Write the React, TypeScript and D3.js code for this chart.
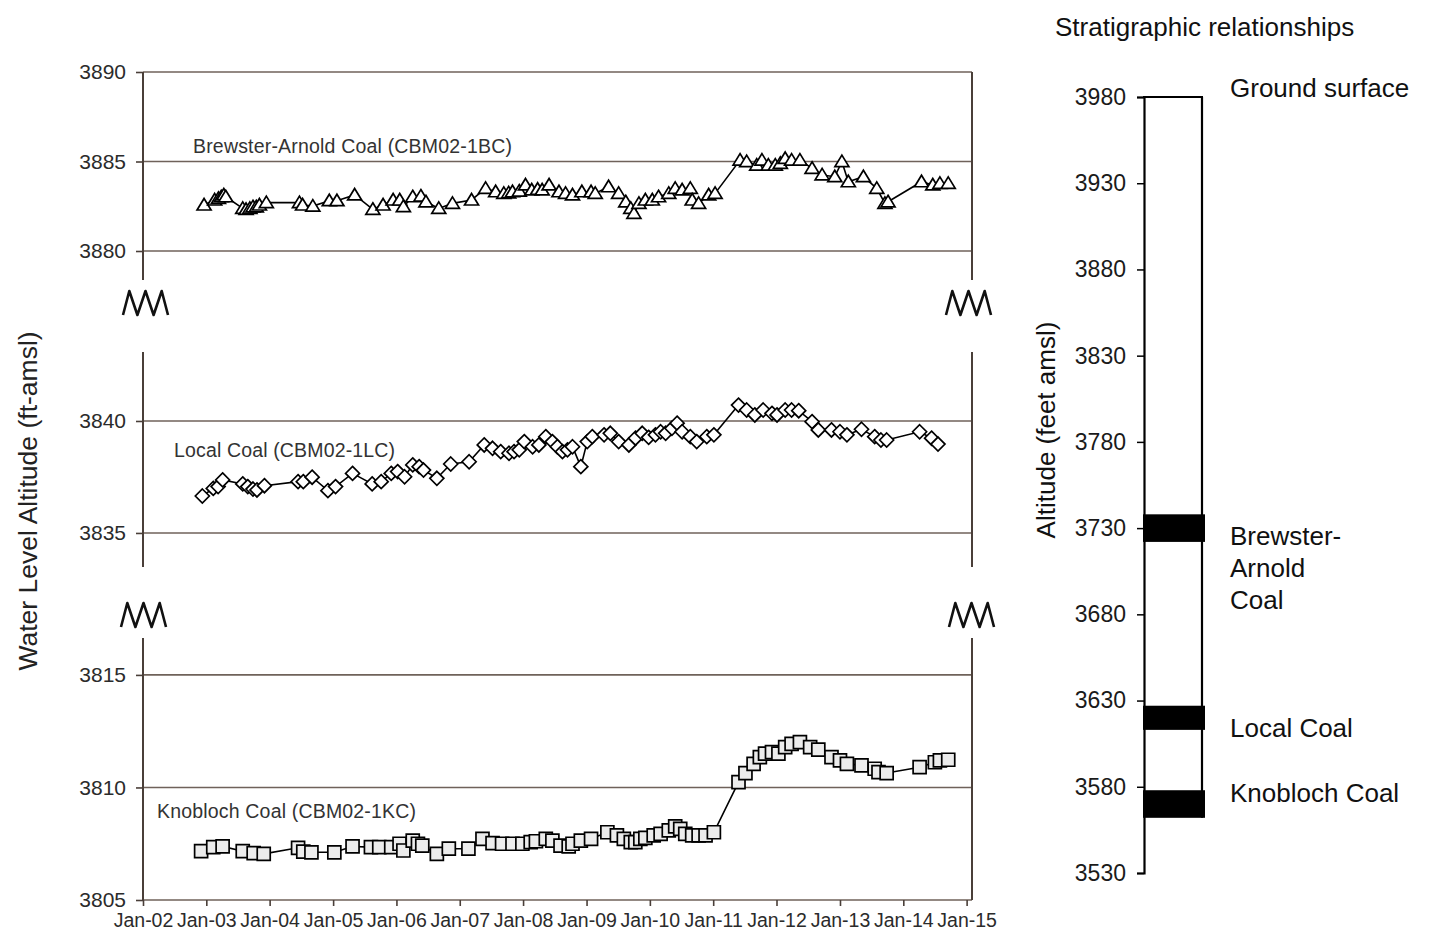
import React, { useEffect, useRef } from 'react';
import * as d3 from 'd3';

// Water-level observations, [date, altitude in ft above mean sea level]
const brewsterArnold: [string, number][] = [
  ['2002-12-19', 3882.57], ['2003-02-18', 3882.85], ['2003-03-12', 3882.94], ['2003-03-28', 3883.03],
  ['2003-04-12', 3883.13], ['2003-04-23', 3883.03], ['2003-07-30', 3882.38], ['2003-08-18', 3882.32],
  ['2003-09-09', 3882.38], ['2003-09-27', 3882.47], ['2003-10-16', 3882.47], ['2003-11-03', 3882.57],
  ['2003-12-13', 3882.7], ['2004-06-21', 3882.7], ['2004-07-09', 3882.57], ['2004-09-06', 3882.51],
  ['2004-12-10', 3882.81], ['2005-01-23', 3882.81], ['2005-05-05', 3883.13], ['2005-08-18', 3882.33],
  ['2005-10-16', 3882.57], ['2005-12-13', 3882.85], ['2006-01-20', 3882.85], ['2006-02-10', 3882.48],
  ['2006-04-05', 3883.03], ['2006-05-22', 3883.07], ['2006-06-20', 3882.75], ['2006-09-02', 3882.38],
  ['2006-11-20', 3882.66], ['2007-03-10', 3882.85], ['2007-05-30', 3883.5], ['2007-07-27', 3883.31],
  ['2007-09-12', 3883.22], ['2007-10-10', 3883.25], ['2007-11-01', 3883.31], ['2007-12-10', 3883.35],
  ['2008-01-15', 3883.69], ['2008-02-20', 3883.41], ['2008-03-25', 3883.45], ['2008-04-20', 3883.41],
  ['2008-05-30', 3883.69], ['2008-07-26', 3883.31], ['2008-09-02', 3883.22], ['2008-10-12', 3883.13],
  ['2008-12-05', 3883.31], ['2009-01-27', 3883.31], ['2009-02-20', 3883.22], ['2009-05-08', 3883.59],
  ['2009-07-05', 3883.22], ['2009-08-15', 3882.75], ['2009-09-13', 3882.38], ['2009-10-01', 3882.1],
  ['2009-10-30', 3882.66], ['2009-12-06', 3882.85], ['2010-01-15', 3882.85], ['2010-02-20', 3883.03],
  ['2010-04-20', 3883.22], ['2010-05-27', 3883.5], ['2010-07-06', 3883.41], ['2010-08-22', 3883.5],
  ['2010-09-02', 3882.85], ['2010-10-09', 3882.66], ['2010-12-06', 3883.13], ['2011-01-12', 3883.22],
  ['2011-06-05', 3885.08], ['2011-07-13', 3884.99], ['2011-09-09', 3884.8], ['2011-10-09', 3885.08],
  ['2011-11-15', 3884.8], ['2011-12-25', 3884.8], ['2012-01-23', 3884.9], ['2012-02-20', 3885.17],
  ['2012-03-28', 3885.08], ['2012-05-15', 3885.08], ['2012-07-24', 3884.62], ['2012-09-20', 3884.25],
  ['2012-12-02', 3884.15], ['2013-01-12', 3884.99], ['2013-02-18', 3883.87], ['2013-05-16', 3884.15],
  ['2013-08-01', 3883.5], ['2013-09-17', 3882.66], ['2013-10-05', 3882.75], ['2014-04-16', 3883.87],
  ['2014-06-20', 3883.69], ['2014-07-31', 3883.78], ['2014-09-17', 3883.78],
];

const localCoal: [string, number][] = [
  ['2002-12-09', 3836.65], ['2003-02-10', 3836.99], ['2003-03-10', 3837.07], ['2003-04-05', 3837.37],
  ['2003-07-30', 3837.19], ['2003-08-28', 3837.07], ['2003-09-27', 3836.96], ['2003-10-20', 3836.92],
  ['2003-12-02', 3837.11], ['2004-06-13', 3837.29], ['2004-07-13', 3837.29], ['2004-09-02', 3837.49],
  ['2004-12-02', 3836.89], ['2005-01-15', 3837.07], ['2005-04-23', 3837.66], ['2005-08-14', 3837.19],
  ['2005-10-05', 3837.29], ['2005-12-02', 3837.66], ['2006-01-08', 3837.74], ['2006-02-17', 3837.51],
  ['2006-04-05', 3838.04], ['2006-05-12', 3837.96], ['2006-06-06', 3837.81], ['2006-08-22', 3837.44],
  ['2006-11-10', 3838.08], ['2007-02-24', 3838.18], ['2007-05-22', 3838.93], ['2007-07-09', 3838.78],
  ['2007-08-25', 3838.63], ['2007-10-12', 3838.56], ['2007-11-10', 3838.63], ['2007-12-10', 3838.71],
  ['2008-01-08', 3839.08], ['2008-02-25', 3838.85], ['2008-04-01', 3838.93], ['2008-05-11', 3839.3],
  ['2008-06-18', 3839.08], ['2008-07-17', 3838.85], ['2008-08-15', 3838.63], ['2008-09-13', 3838.71],
  ['2008-10-12', 3838.85], ['2008-11-29', 3837.96], ['2009-01-05', 3839.08], ['2009-02-03', 3839.3],
  ['2009-04-12', 3839.38], ['2009-05-18', 3839.45], ['2009-07-05', 3839.08], ['2009-09-02', 3838.93],
  ['2009-10-10', 3839.23], ['2009-11-18', 3839.45], ['2009-12-25', 3839.27], ['2010-02-02', 3839.38],
  ['2010-03-04', 3839.52], ['2010-04-02', 3839.45], ['2010-05-08', 3839.67], ['2010-06-07', 3839.9],
  ['2010-07-06', 3839.52], ['2010-08-22', 3839.3], ['2010-09-28', 3839.08], ['2010-11-25', 3839.3],
  ['2011-01-05', 3839.38], ['2011-05-27', 3840.71], ['2011-07-13', 3840.49], ['2011-08-29', 3840.27],
  ['2011-10-16', 3840.49], ['2011-12-06', 3840.34], ['2012-01-04', 3840.27], ['2012-02-20', 3840.49],
  ['2012-03-28', 3840.49], ['2012-05-08', 3840.46], ['2012-07-24', 3839.97], ['2012-08-29', 3839.6],
  ['2012-11-13', 3839.6], ['2013-01-01', 3839.52], ['2013-02-10', 3839.38], ['2013-05-05', 3839.63],
  ['2013-07-20', 3839.3], ['2013-08-25', 3839.15], ['2013-09-27', 3839.15], ['2014-04-05', 3839.52],
  ['2014-06-13', 3839.23], ['2014-07-20', 3838.97],
];

const knobloch: [string, number][] = [
  ['2002-12-02', 3807.17], ['2003-02-10', 3807.35], ['2003-04-05', 3807.38], ['2003-07-30', 3807.17],
  ['2003-10-01', 3807.08], ['2003-11-28', 3807.05], ['2004-06-13', 3807.32], ['2004-07-13', 3807.15],
  ['2004-08-29', 3807.12], ['2005-01-08', 3807.12], ['2005-04-23', 3807.38], ['2005-08-07', 3807.35],
  ['2005-09-24', 3807.35], ['2005-12-02', 3807.35], ['2006-01-19', 3807.5], ['2006-02-10', 3807.2],
  ['2006-04-05', 3807.64], ['2006-05-05', 3807.5], ['2006-05-30', 3807.42], ['2006-08-22', 3807.05],
  ['2006-10-30', 3807.28], ['2007-02-20', 3807.28], ['2007-05-12', 3807.72], ['2007-07-09', 3807.53],
  ['2007-09-02', 3807.5], ['2007-11-01', 3807.5], ['2007-12-28', 3807.5], ['2008-02-14', 3807.57],
  ['2008-03-15', 3807.61], ['2008-05-11', 3807.72], ['2008-06-18', 3807.64], ['2008-08-04', 3807.42],
  ['2008-09-20', 3807.38], ['2008-10-12', 3807.5], ['2008-11-29', 3807.64], ['2009-01-27', 3807.72],
  ['2009-05-01', 3808.01], ['2009-06-25', 3807.87], ['2009-08-04', 3807.72], ['2009-09-13', 3807.57],
  ['2009-10-09', 3807.57], ['2009-11-07', 3807.72], ['2009-12-06', 3807.76], ['2010-01-23', 3807.87],
  ['2010-03-04', 3807.94], ['2010-04-20', 3808.09], ['2010-05-27', 3808.27], ['2010-06-25', 3808.16],
  ['2010-07-24', 3807.94], ['2010-09-02', 3807.87], ['2010-10-09', 3807.87], ['2010-11-18', 3807.87],
  ['2011-01-05', 3808.01], ['2011-05-27', 3810.24], ['2011-07-06', 3810.64], ['2011-08-22', 3811.05],
  ['2011-09-27', 3811.35], ['2011-10-27', 3811.5], ['2011-12-06', 3811.57], ['2012-01-12', 3811.5],
  ['2012-02-20', 3811.79], ['2012-03-28', 3811.94], ['2012-05-15', 3812.01], ['2012-07-13', 3811.79],
  ['2012-08-29', 3811.68], ['2012-11-13', 3811.35], ['2013-01-01', 3811.2], ['2013-02-10', 3811.05],
  ['2013-05-05', 3810.98], ['2013-07-20', 3810.83], ['2013-08-11', 3810.68], ['2013-09-27', 3810.64],
  ['2014-04-05', 3810.9], ['2014-07-02', 3811.12], ['2014-07-31', 3811.2], ['2014-09-17', 3811.23],
];

// Axis ticks
const xTickLabels = ['Jan-02', 'Jan-03', 'Jan-04', 'Jan-05', 'Jan-06', 'Jan-07', 'Jan-08',
  'Jan-09', 'Jan-10', 'Jan-11', 'Jan-12', 'Jan-13', 'Jan-14', 'Jan-15'];
const brewsterTicks = [3880, 3885, 3890];
const localTicks = [3835, 3840];
const knoblochTicks = [3805, 3810, 3815];
const stratTicks = [3530, 3580, 3630, 3680, 3730, 3780, 3830, 3880, 3930, 3980];

// Stratigraphic column (ft amsl)
const groundSurface = 3980;
const bedNames = ['Brewster-Arnold Coal', 'Local Coal', 'Knobloch Coal'];
const bedTops = [3738, 3627, 3578];
const bedBottoms = [3722, 3613, 3562];
const bedLabelLines = [['Brewster-', 'Arnold', 'Coal'], ['Local Coal'], ['Knobloch Coal']];

const FONT = '"Liberation Sans", Arial, Helvetica, sans-serif';
const GRID = '#6f625a';
const AXIS = '#4a3f39';

const markerPath: Record<string, string> = {
  triangle: 'M0,-6.5L7,5L-7,5Z',
  diamond: 'M0,-7L7,0L0,7L-7,0Z',
  square: 'M-6.5,-6.5h13v13h-13Z',
};

export default function App() {
  const ref = useRef<SVGSVGElement>(null);

  useEffect(() => {
    const svg = d3.select(ref.current);
    svg.selectAll('*').remove();

    const X0 = 143;
    const X1 = 972;
    const x = d3.scaleUtc()
      .domain([new Date(Date.UTC(2002, 0, 1)), new Date(Date.UTC(2015, 1, 1))])
      .range([X0, X1]);
    const parse = d3.utcParse('%Y-%m-%d');

    const panels = [
      { data: brewsterArnold, domain: [3878.38, 3890], range: [280, 72], ticks: brewsterTicks,
        marker: 'triangle', fill: '#fff', label: 'Brewster-Arnold Coal (CBM02-1BC)', lx: 193, ly: 153, len: 319 },
      { data: localCoal, domain: [3833.48, 3843.08], range: [567, 352], ticks: localTicks,
        marker: 'diamond', fill: '#fff', label: 'Local Coal (CBM02-1LC)', lx: 174, ly: 457, len: 221 },
      { data: knobloch, domain: [3805, 3816.64], range: [900, 638], ticks: knoblochTicks,
        marker: 'square', fill: '#ececec', label: 'Knobloch Coal (CBM02-1KC)', lx: 157, ly: 818, len: 259 },
    ];

    const chart = svg.append('g');

    panels.forEach((p) => {
      const y = d3.scaleLinear().domain(p.domain).range(p.range);
      const g = chart.append('g');

      // gridlines
      g.selectAll('line.grid').data(p.ticks).join('line')
        .attr('x1', X0).attr('x2', X1)
        .attr('y1', (d) => y(d)).attr('y2', (d) => y(d))
        .attr('stroke', GRID).attr('stroke-width', 1.6);

      // left and right frame lines
      [X0, X1].forEach((xx) => {
        g.append('line')
          .attr('x1', xx).attr('x2', xx)
          .attr('y1', y(p.domain[0])).attr('y2', y(p.domain[1]))
          .attr('stroke', AXIS).attr('stroke-width', 2);
      });

      // y axis
      const ax = g.append('g').attr('transform', `translate(${X0},0)`)
        .call(d3.axisLeft(y).tickValues(p.ticks).tickSize(7).tickPadding(10).tickFormat(d3.format('d')));
      ax.select('.domain').remove();
      ax.selectAll('.tick line').attr('stroke', AXIS).attr('stroke-width', 1.6);
      ax.selectAll('.tick text')
        .attr('font-family', FONT).attr('font-size', 21).attr('fill', '#2b2b2b');

      // series label
      g.append('text')
        .attr('x', p.lx).attr('y', p.ly)
        .attr('font-family', FONT).attr('font-size', 19.5).attr('fill', '#333')
        .attr('textLength', p.len).attr('lengthAdjust', 'spacing')
        .text(p.label);

      const pts = p.data.map(([d, v]) => [x(parse(d) as Date), y(v)] as [number, number]);
      g.append('path')
        .attr('d', d3.line()(pts))
        .attr('fill', 'none').attr('stroke', '#000').attr('stroke-width', 1.6);
      g.selectAll('path.mk').data(pts).join('path')
        .attr('class', 'mk')
        .attr('transform', (d) => `translate(${d[0]},${d[1]})`)
        .attr('d', markerPath[p.marker])
        .attr('fill', p.fill).attr('stroke', '#000').attr('stroke-width', 1.7);
    });

    // x axis (bottom of lowest panel)
    const years = d3.utcYear.range(new Date(Date.UTC(2002, 0, 1)), new Date(Date.UTC(2015, 0, 2)));
    const xa = chart.append('g').attr('transform', 'translate(0,900)')
      .call(d3.axisBottom(x).tickValues(years).tickSize(6).tickPadding(7)
        .tickFormat((_, i) => xTickLabels[i]));
    xa.select('.domain').remove();
    xa.selectAll('.tick line').attr('stroke', AXIS).attr('stroke-width', 1.6);
    xa.selectAll('.tick text').attr('font-family', FONT).attr('font-size', 19.5).attr('fill', '#2b2b2b');

    // axis-break symbols
    const zig = (x0: number, y0: number) => {
      const w = 45, h = 24;
      const pts: [number, number][] = [[0, 1], [0.14, 0], [0.32, 1], [0.5, 0], [0.68, 1], [0.86, 0], [1, 1]]
        .map(([a, b]) => [x0 + a * w, y0 + b * h]);
      chart.append('path').attr('d', d3.line()(pts))
        .attr('fill', 'none').attr('stroke', '#111').attr('stroke-width', 2.6)
        .attr('stroke-linejoin', 'round');
    };
    zig(123, 291); zig(946, 291); zig(121, 603); zig(949, 603);

    // y axis title
    chart.append('text')
      .attr('transform', 'translate(28,501) rotate(-90)')
      .attr('text-anchor', 'middle').attr('dy', '0.35em')
      .attr('font-family', FONT).attr('font-size', 26.5).attr('fill', '#222')
      .text('Water Level Altitude (ft-amsl)');

    // ---- Stratigraphic column ----
    const ys = d3.scaleLinear().domain([3530, 3980]).range([873, 97]);
    const CX0 = 1144;
    const CX1 = 1202;
    const col = svg.append('g');

    col.append('text').attr('x', 1055).attr('y', 36)
      .attr('font-family', FONT).attr('font-size', 26).attr('fill', '#111')
      .text('Stratigraphic relationships');

    col.append('line').attr('x1', CX1).attr('x2', CX1)
      .attr('y1', ys(groundSurface)).attr('y2', ys(d3.min(bedBottoms) as number))
      .attr('stroke', '#000').attr('stroke-width', 2.2);
    col.append('line').attr('x1', CX0 - 1).attr('x2', CX1 + 1)
      .attr('y1', ys(groundSurface)).attr('y2', ys(groundSurface))
      .attr('stroke', '#000').attr('stroke-width', 2.2);

    const sa = col.append('g').attr('transform', `translate(${CX0},0)`)
      .call(d3.axisLeft(ys).tickValues(stratTicks).tickSize(7).tickPadding(11).tickFormat(d3.format('d')));
    sa.select('.domain').attr('stroke', '#000').attr('stroke-width', 2.2);
    sa.selectAll('.tick line').attr('stroke', '#000').attr('stroke-width', 1.5);
    sa.selectAll('.tick text').attr('font-family', FONT).attr('font-size', 23).attr('fill', '#1a1a1a');

    col.selectAll('rect.bed').data(bedNames).join('rect')
      .attr('class', 'bed')
      .attr('x', CX0 - 1).attr('width', CX1 - CX0 + 4)
      .attr('y', (_, i) => ys(bedTops[i]))
      .attr('height', (_, i) => ys(bedBottoms[i]) - ys(bedTops[i]))
      .attr('fill', '#000');

    const labelX = 1230;
    col.append('text').attr('x', labelX).attr('y', 97)
      .attr('font-family', FONT).attr('font-size', 26).attr('fill', '#111')
      .text('Ground surface');

    const labelBaselines = [545, 737, 802];
    bedLabelLines.forEach((lines, i) => {
      lines.forEach((ln, j) => {
        col.append('text').attr('x', labelX).attr('y', labelBaselines[i] + j * 32)
          .attr('font-family', FONT).attr('font-size', 26).attr('fill', '#111')
          .text(ln);
      });
    });

    col.append('text')
      .attr('transform', 'translate(1046,430) rotate(-90)')
      .attr('text-anchor', 'middle').attr('dy', '0.35em')
      .attr('font-family', FONT).attr('font-size', 26).attr('fill', '#111')
      .text('Altitude (feet amsl)');
  }, []);

  return (
    <svg
      ref={ref}
      width={1430}
      height={934}
      style={{ position: 'absolute', left: 0, top: 0, background: '#fff' }}
    />
  );
}
